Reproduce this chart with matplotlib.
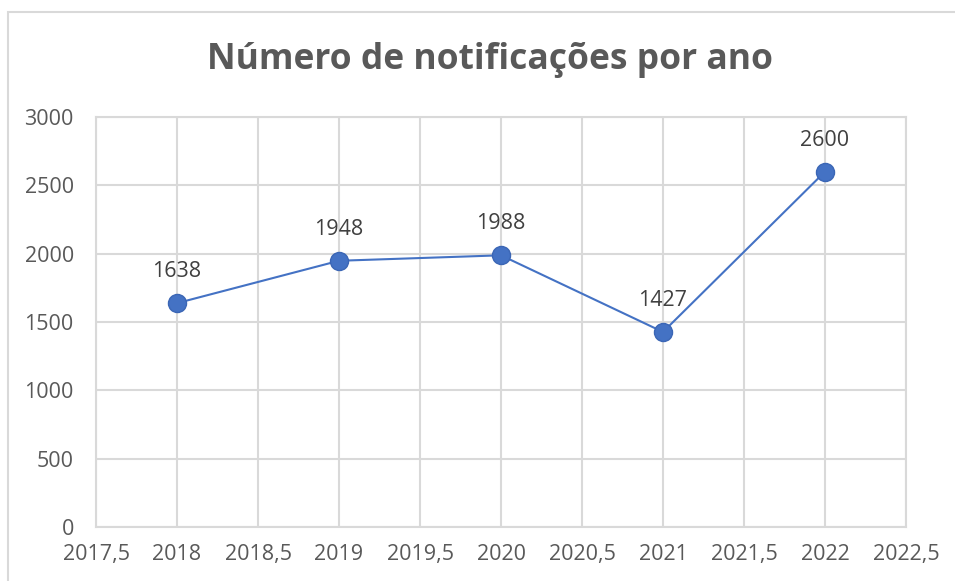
import matplotlib
matplotlib.use("Agg")
import matplotlib.pyplot as plt
from matplotlib.patches import Rectangle

years = [2018, 2019, 2020, 2021, 2022]
values = [1638, 1948, 1988, 1427, 2600]
x_ticks = [2017.5, 2018, 2018.5, 2019, 2019.5, 2020, 2020.5, 2021, 2021.5, 2022, 2022.5]
y_ticks = [0, 500, 1000, 1500, 2000, 2500, 3000]
title = "Número de notificações por ano"

plt.rcParams['font.family'] = ['Open Sans', 'DejaVu Sans']

fig = plt.figure(figsize=(9.55, 5.81), dpi=100)
# chart border
fig.patches.append(Rectangle((8/955, -0.1), 1.2, 1 - 12/581 + 0.1, transform=fig.transFigure,
                             fill=False, edgecolor='#D9D9D9', linewidth=1.5))
ax = fig.add_axes([96/955, 1 - 527/581, 810/955, 410/581])

ax.plot(years, values, color='#4472C4', linewidth=1.5, marker='o', markersize=13,
        markerfacecolor='#4472C4', markeredgecolor='#3B66B5', markeredgewidth=1, zorder=3)

for x, y in zip(years, values):
    ax.annotate(f"{y}", (x, y), xytext=(0, 15), textcoords='offset points',
                ha='center', va='bottom', fontsize=15.5, color='#404040')

ax.set_xlim(2017.5, 2022.5)
ax.set_ylim(0, 3000)
ax.set_xticks(x_ticks)
ax.set_xticklabels([(f"{t:g}").replace('.', ',') for t in x_ticks])
ax.set_yticks(y_ticks)
ax.set_yticklabels([str(t) for t in y_ticks])
ax.tick_params(axis='both', length=0, labelsize=15.5, labelcolor='#595959')
ax.tick_params(axis='x', pad=12)
ax.tick_params(axis='y', pad=16)
ax.grid(True, color='#D9D9D9', linewidth=1.5)
ax.set_axisbelow(True)
for s in ax.spines.values():
    s.set_color('#D9D9D9')
    s.set_linewidth(1.5)

fig.text(490/955, 1 - 60/581, title, ha='center', va='center', fontsize=25.5,
         fontweight='bold', color='#595959')

fig.savefig("out.png", dpi=100)
